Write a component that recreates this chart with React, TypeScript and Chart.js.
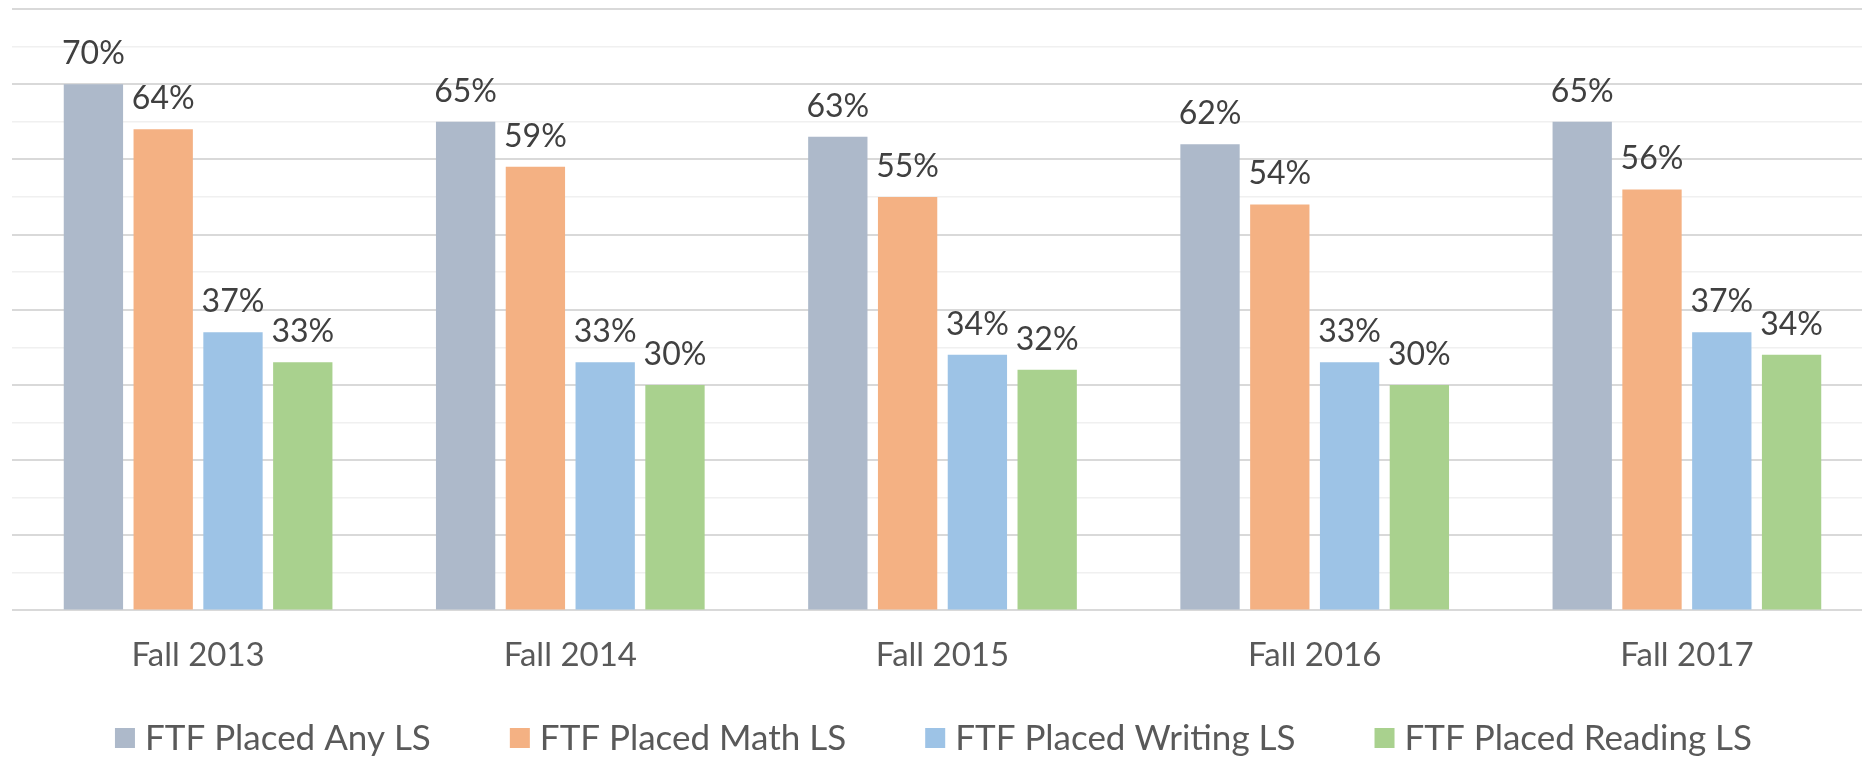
import { useEffect, useRef } from "react";
import { Chart, registerables } from "chart.js";

Chart.register(...registerables);

const categories = ["Fall 2013", "Fall 2014", "Fall 2015", "Fall 2016", "Fall 2017"];
const anyLS = [70, 65, 63, 62, 65];
const mathLS = [64, 59, 55, 54, 56];
const writingLS = [37, 33, 34, 33, 37];
const readingLS = [33, 30, 32, 30, 34];
const seriesNames = ["FTF Placed Any LS", "FTF Placed Math LS", "FTF Placed Writing LS", "FTF Placed Reading LS"];
const seriesColors = ["#ADB9CA", "#F4B183", "#9DC3E6", "#A9D18E"];

const FONT = "Lato, 'Open Sans', sans-serif";

const dataLabelPlugin = {
  id: "dataLabels",
  afterDatasetsDraw(chart: any) {
    const ctx = chart.ctx;
    ctx.save();
    ctx.font = `32px ${FONT}`;
    ctx.fillStyle = "#404040";
    ctx.textAlign = "center";
    ctx.textBaseline = "alphabetic";
    chart.data.datasets.forEach((ds: any, i: number) => {
      const meta = chart.getDatasetMeta(i);
      meta.data.forEach((el: any, j: number) => {
        ctx.fillText(`${ds.data[j]}%`, el.x, el.y - 20);
      });
    });
    ctx.restore();
  },
};

const legendPlugin = {
  id: "customLegend",
  afterDraw(chart: any) {
    const ctx = chart.ctx;
    ctx.save();
    ctx.font = `35px ${FONT}`;
    const box = 20;
    const boxGap = 10;
    const itemGap = 79;
    const widths = chart.data.datasets.map((ds: any) => ctx.measureText(ds.label).width);
    const total = widths.reduce((a: number, w: number) => a + box + boxGap + w, 0) + itemGap * (widths.length - 1);
    const center = (chart.chartArea.left + chart.chartArea.right) / 2 - 9;
    let x = center - total / 2;
    const yMid = chart.height - 20;
    ctx.textBaseline = "middle";
    ctx.textAlign = "left";
    chart.data.datasets.forEach((ds: any, i: number) => {
      ctx.fillStyle = ds.backgroundColor;
      ctx.fillRect(x, yMid - box / 2, box, box);
      ctx.fillStyle = "#595959";
      ctx.fillText(ds.label, x + box + boxGap, yMid + 1);
      x += box + boxGap + widths[i] + itemGap;
    });
    ctx.restore();
  },
};

export default function App() {
  const ref = useRef<HTMLCanvasElement>(null);
  useEffect(() => {
    const canvas = ref.current!;
    const values = [anyLS, mathLS, writingLS, readingLS];
    const chart = new Chart(canvas, {
      type: "bar",
      data: {
        labels: categories,
        datasets: values.map((v, i) => ({
          label: seriesNames[i],
          data: v,
          backgroundColor: seriesColors[i],
          categoryPercentage: 0.75,
          barPercentage: 0.85,
        })),
      },
      options: {
        responsive: false,
        animation: false,
        layout: { padding: { top: 9, left: 12, right: 7, bottom: 58 } },
        plugins: { legend: { display: false }, tooltip: { enabled: false } },
        scales: {
          x: {
            grid: { display: false, drawTicks: false },
            border: { display: false },
            ticks: { padding: 25, color: "#595959", font: { family: FONT, size: 33 } },
          },
          y: {
            min: 0,
            max: 80,
            ticks: { display: false, stepSize: 5 },
            border: { display: false },
            grid: {
              drawTicks: false,
              color: (c: any) => (c.tick && c.tick.value % 10 === 0 ? "#D9D9D9" : "#F0F0F0"),
              lineWidth: (c: any) => (c.tick && c.tick.value % 10 === 0 ? 2 : 1.5),
            },
          },
        },
      },
      plugins: [dataLabelPlugin, legendPlugin],
    });
    return () => chart.destroy();
  }, []);
  return (
    <div style={{ position: "fixed", left: 0, top: 0, width: 1862, height: 758, overflow: "hidden", background: "#fff" }}>
      <canvas ref={ref} width={1880} height={758} style={{ display: "block" }} />
    </div>
  );
}
